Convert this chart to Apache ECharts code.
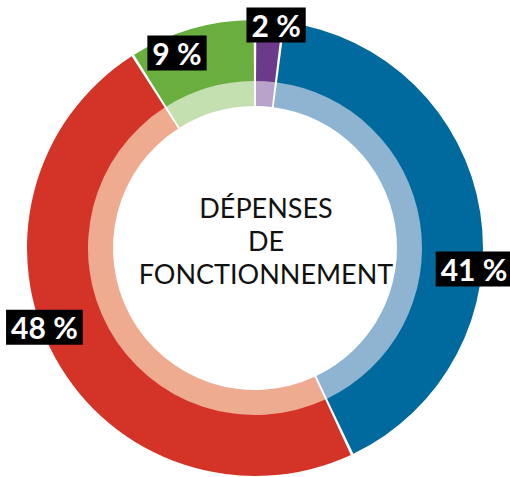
<!DOCTYPE html>
<html>
<head>
<meta charset="utf-8">
<script src="https://cdn.jsdelivr.net/npm/echarts@6/dist/echarts.min.js"></script>
<style>
  html, body { margin: 0; padding: 0; background: #ffffff; }
  #chart { width: 510px; height: 477px; }
</style>
</head>
<body>
<div id="chart"></div>
<script>
// parts, clockwise from 12 o'clock
const parts = ['Part A', 'Part B', 'Part C', 'Part D'];
const percents = [2, 41, 48, 9];
const darkColors = ['#6b3a8a', '#00699e', '#d43327', '#6aae40'];
const lightColors = ['#b9a3cc', '#8eb4d2', '#efab8f', '#c5e0b0'];
const centerTitle = 'DÉPENSES\nDE\nFONCTIONNEMENT';

// where the black tags sit: angle (deg, clockwise from top) and distance from center
const tagAngle = [5.4, 95.5, 249.4, 338.2];
const tagDist = [224, 220, 225, 210];

const cx = 255, cy = 248;

const chart = echarts.init(document.getElementById('chart'), null, { renderer: 'svg' });

const option = {
    backgroundColor: '#ffffff',
    animation: false,
    title: {
        text: centerTitle,
        left: 261,
        top: 186,
        textAlign: 'center',
        textStyle: {
            fontFamily: 'Lato',
            fontWeight: 'normal',
            fontSize: 27,
            lineHeight: 33,
            color: '#111111',
            align: 'center'
        }
    },
    series: [{
        type: 'pie',
        center: [cx, cy],
        radius: [167, 228],
        startAngle: 90,
        clockwise: true,
        padAngle: 0.7,
        silent: true,
        label: {
            show: true,
            position: 'inside',
            formatter: '{c} %',
            color: '#ffffff',
            backgroundColor: '#000000',
            fontFamily: 'Lato',
            fontWeight: 'bold',
            fontSize: 30,
            lineHeight: 29,
            padding: [3, 5, 3, 5],
            align: 'center',
            verticalAlign: 'middle'
        },
        labelLine: { show: false },
        labelLayout: function (p) {
            const a = tagAngle[p.dataIndex] * Math.PI / 180;
            const r = tagDist[p.dataIndex];
            return { x: cx + r * Math.sin(a), y: cy - r * Math.cos(a) };
        },
        data: parts.map((n, i) => ({
            name: n,
            value: percents[i],
            itemStyle: { color: darkColors[i] }
        })),
        z: 2
    }, {
        type: 'pie',
        center: [cx, cy],
        radius: [142, 167.5],
        startAngle: 90,
        clockwise: true,
        padAngle: 0.7,
        silent: true,
        label: { show: false },
        labelLine: { show: false },
        data: parts.map((n, i) => ({
            name: n,
            value: percents[i],
            itemStyle: { color: lightColors[i] }
        })),
        z: 1
    }]
};

chart.setOption(option);
</script>
</body>
</html>
